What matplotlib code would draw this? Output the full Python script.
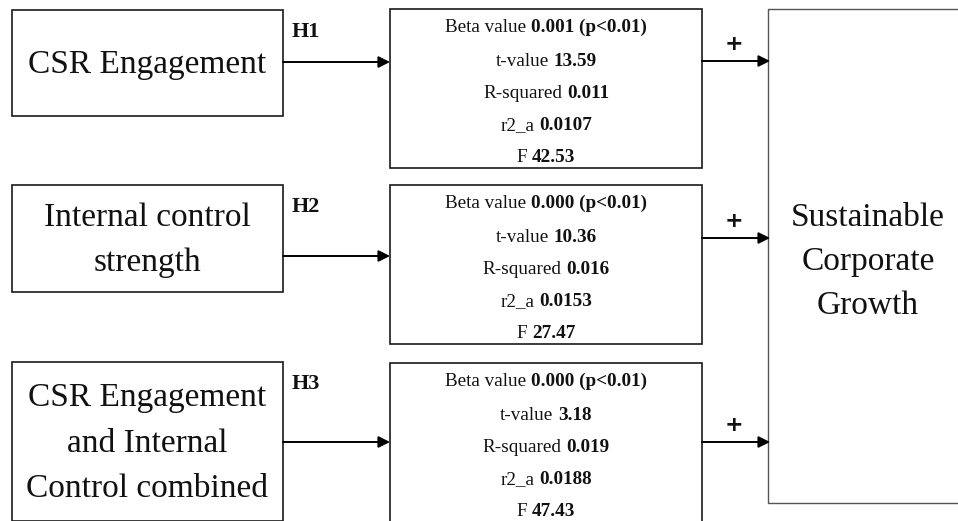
import matplotlib
matplotlib.use('Agg')
import matplotlib.pyplot as plt
from matplotlib.patches import Rectangle
from matplotlib.offsetbox import TextArea, HPacker, AnnotationBbox

# data
hyp_labels = ['H1', 'H2', 'H3']
constructs = ['CSR Engagement',
              'Internal control\nstrength',
              'CSR Engagement\nand Internal\nControl combined']
beta_values = ['0.001', '0.000', '0.000']
p_level = '(p<0.01)'
t_values = ['13.59', '10.36', '3.18']
r_squared = ['0.011', '0.016', '0.019']
r2_adj = ['0.0107', '0.0153', '0.0188']
f_values = ['42.53', '27.47', '47.43']
outcome = 'Sustainable\nCorporate\nGrowth'
signs = ['+', '+', '+']

# layout (pixels, figure is 958x521)
left_x, left_w = 12, 271
left_top = [10, 185, 362]
left_h = [106, 107, 159]
mid_x, mid_w = 390, 312
mid_top = [9, 185, 363]
mid_h = 159
right_x, right_top, right_bot = 768, 9, 503
in_arrow_y = [62, 256, 442]
out_arrow_y = [61, 238, 442]
line_offsets = [18, 52, 84, 117, 149]

serif = 'Liberation Serif'

fig = plt.figure(figsize=(9.58, 5.21), dpi=100)
ax = fig.add_axes([0, 0, 1, 1])
ax.set_xlim(0, 958)
ax.set_ylim(521, 0)
ax.axis('off')


def mixed_line(x, y, plain, bold):
    a = TextArea(plain, textprops=dict(family=serif, size=13.8, color='#111111'))
    b = TextArea(bold, textprops=dict(family=serif, size=13.8, weight='bold', color='#111111'))
    pack = HPacker(children=[a, b], sep=3.5, pad=0, align='baseline')
    ab = AnnotationBbox(pack, (x, y), xycoords='data', frameon=False,
                        box_alignment=(0.5, 0.5), pad=0)
    ax.add_artist(ab)


for i in range(3):
    # independent variable box
    ax.add_patch(Rectangle((left_x, left_top[i]), left_w, left_h[i],
                           fill=False, ec='#1a1a1a', lw=1.2))
    ax.text(left_x + left_w / 2, left_top[i] + left_h[i] / 2 + 2, constructs[i],
            ha='center', va='center', family=serif, size=24,
            linespacing=1.63, color='#111111')
    ax.text(292, left_top[i] + 22, hyp_labels[i], ha='left', va='center',
            family=serif, size=16, weight='bold', color='#111111')

    # arrow into stats box
    ax.annotate('', xy=(mid_x, in_arrow_y[i]), xytext=(left_x + left_w, in_arrow_y[i]),
                arrowprops=dict(arrowstyle='-|>', color='black', lw=1.4,
                                mutation_scale=17, shrinkA=0, shrinkB=0))

    # stats box
    ax.add_patch(Rectangle((mid_x, mid_top[i]), mid_w, mid_h,
                           fill=False, ec='#1a1a1a', lw=1.2, zorder=3))
    cx = mid_x + mid_w / 2
    rows = [('Beta value', beta_values[i] + ' ' + p_level),
            ('t-value', t_values[i]),
            ('R-squared', r_squared[i]),
            ('r2_a', r2_adj[i]),
            ('F', f_values[i])]
    for (plain, bold), off in zip(rows, line_offsets):
        mixed_line(cx, mid_top[i] + off, plain, bold)

    # arrow into outcome
    ax.annotate('', xy=(right_x + 2, out_arrow_y[i]), xytext=(mid_x + mid_w, out_arrow_y[i]),
                arrowprops=dict(arrowstyle='-|>', color='black', lw=1.4,
                                mutation_scale=17, shrinkA=0, shrinkB=0))
    ax.text(734, out_arrow_y[i] - 17, signs[i], ha='center', va='center',
            family='DejaVu Sans', size=16, weight='bold', color='#111111')

# outcome box
ax.add_patch(Rectangle((right_x, right_top), 250, right_bot - right_top,
                       fill=False, ec='#555555', lw=1.0))
ax.text(868, 262, outcome, ha='center', va='center', family=serif, size=24,
        linespacing=1.58, color='#111111')

fig.savefig('out.png', dpi=100)
